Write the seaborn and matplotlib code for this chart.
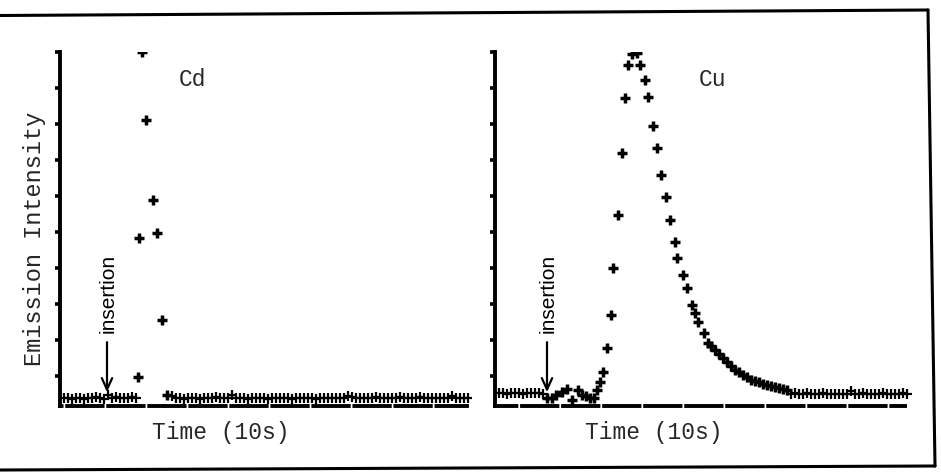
import seaborn as sns
import matplotlib.pyplot as plt
from matplotlib.lines import Line2D

# time in samples (10 s each), intensity in tick units (axis top = 10)
cd_base_time = [*range(1, 20), *range(28, 103)]
cd_base_signal = [
    0.39, 0.39, 0.36, 0.39, 0.39, 0.36, 0.39, 0.39, 0.42, 0.39, 0.36, 0.47, 0.39, 0.42, 0.39, 0.39, 0.39, 0.42, 0.39,
    0.44, 0.39, 0.39, 0.36, 0.39, 0.39, 0.39, 0.36, 0.39, 0.39, 0.39, 0.42, 0.39, 0.39, 0.39,
    0.47, 0.39, 0.39, 0.39, 0.36, 0.39, 0.39, 0.39, 0.39, 0.36, 0.39, 0.39, 0.39, 0.39, 0.39,
    0.36, 0.39, 0.39, 0.39, 0.39, 0.39, 0.36, 0.39, 0.39, 0.39, 0.39, 0.39, 0.39, 0.39, 0.44,
    0.42, 0.39, 0.39, 0.39, 0.39, 0.39, 0.42, 0.39, 0.39, 0.39, 0.39, 0.39, 0.42, 0.39, 0.39,
    0.39, 0.39, 0.42, 0.39, 0.39, 0.39, 0.39, 0.39, 0.39, 0.39, 0.44, 0.39, 0.39, 0.39, 0.39,
]
cd_peak_time = [19.6, 19.8, 20.4, 21.5, 23.2, 24.2, 25.6, 26.7]
cd_peak_signal = [0.98, 4.83, 10.0, 8.11, 5.89, 4.96, 2.56, 0.47]
cd_insert = 11.75

cu_base_time = [*range(1, 13), *range(74, 104)]
cu_base_signal = [
    0.53, 0.53, 0.50, 0.53, 0.53, 0.53, 0.50, 0.53, 0.53, 0.53, 0.53, 0.50,
    0.50, 0.53, 0.50, 0.50, 0.53, 0.50, 0.50, 0.50, 0.53, 0.50, 0.50, 0.50, 0.50, 0.50, 0.50,
    0.58, 0.50, 0.50, 0.53, 0.50, 0.50, 0.50, 0.50, 0.53, 0.50, 0.50, 0.50, 0.50, 0.53, 0.50,
]
cu_peak_time = [
    12.9, 14.2, 15.25, 16.7, 17.9, 19.2, 20.75, 21.75, 22.75, 23.75, 24.75, 25.5,
    26.25, 26.9, 27.9, 28.9, 29.6, 30.8, 31.7, 32.5, 33.3, 34.25, 35.5,
    36.25, 37.5, 38.3, 39.4, 40.6, 41.5, 42.75, 43.75, 45.0, 45.6, 47.1, 48.1, 49.2, 50.0, 50.8, 52.25, 53.3,
    54, 55, 56, 57, 58, 59, 60, 61, 62, 63, 64, 65, 66, 67, 68, 69, 70, 71, 72, 73,
]
cu_peak_signal = [
    0.40, 0.38, 0.47, 0.55, 0.64, 0.33, 0.61, 0.47, 0.44, 0.38, 0.38, 0.60,
    0.84, 1.12, 1.77, 2.69, 3.99, 5.47, 7.19, 8.71, 9.64, 9.94, 9.97,
    9.64, 9.22, 8.76, 7.94, 7.33, 6.58, 5.98, 5.33, 4.73, 4.27, 3.81, 3.44, 2.97, 2.74, 2.51, 2.19, 1.91,
    1.84, 1.72, 1.61, 1.50, 1.39, 1.28, 1.18, 1.10, 1.03, 0.96, 0.90, 0.86, 0.82, 0.79, 0.75, 0.72, 0.69,
    0.67, 0.64, 0.61,
]
cu_insert = 13.0

sns.set_theme(style="white")
plt.rcParams["font.family"] = ["Liberation Mono", "DejaVu Sans Mono"]

W, H = 941, 472
fig = plt.figure(figsize=(W / 100, H / 100), dpi=100)


def fx(px):
    return px / W


def fy(py):
    return 1 - py / H


panels = [
    dict(name="Cd", x0=60, x1=470.8, xmax=102.7, dash_end=101.75, dash_off=8.7,
         base=(cd_base_time, cd_base_signal), peak=(cd_peak_time, cd_peak_signal),
         insert=cd_insert, label_x=192, time_x=221),
    dict(name="Cu", x0=495, x1=912, xmax=104.25, dash_end=102.5, dash_off=3.6,
         base=(cu_base_time, cu_base_signal), peak=(cu_peak_time, cu_peak_signal),
         insert=cu_insert, label_x=713, time_x=654),
]

for p in panels:
    ax = fig.add_axes([fx(p["x0"]), fy(406), (p["x1"] - p["x0"]) / W, 354 / H])
    sns.scatterplot(x=p["base"][0], y=p["base"][1], marker="+", s=42,
                    linewidth=1.6, color="black", ax=ax, legend=False)
    sns.scatterplot(x=p["peak"][0], y=p["peak"][1], marker="+", s=48,
                    linewidth=2.5, color="black", ax=ax, legend=False)
    ax.set_xlim(0, p["xmax"])
    ax.set_ylim(0.167, 10)
    ax.set_yticks(range(1, 11))
    ax.set_xticks([])
    ax.set(xlabel="", ylabel="")
    ax.tick_params(axis="y", direction="out", left=True, length=3.5, width=2.6,
                   color="black", labelleft=False)
    ax.spines[["top", "right"]].set_visible(False)
    ax.spines["left"].set_linewidth(2.8)
    ax.spines["left"].set_color("black")
    ax.spines["bottom"].set_color("black")
    ax.spines["bottom"].set_linewidth(2.8)
    ax.spines["bottom"].set_linestyle((p["dash_off"], (9.1, 1.45)))
    ax.spines["bottom"].set_bounds(0, p["dash_end"])

    # insertion marker
    ax.annotate("", xy=(p["insert"], 0.55), xytext=(p["insert"], 1.94),
                arrowprops=dict(arrowstyle="->,head_length=0.55,head_width=0.25",
                                lw=1.6, color="black", shrinkA=0, shrinkB=0,
                                mutation_scale=15))
    ax.text(p["insert"] + 0.2, 2.2, "insertion", rotation=90, ha="center", va="bottom",
            fontsize=15, family=["Liberation Sans", "DejaVu Sans"], color="black")

    fig.text(fx(p["label_x"]), fy(80), p["name"], ha="center", va="center", fontsize=16.5)
    fig.text(fx(p["time_x"]), fy(432), "Time (10s)", ha="center", va="center", fontsize=16.5)

fig.text(fx(35), fy(239), "Emission Intensity", rotation=90, ha="center", va="center",
         fontsize=17)

# scanned frame around the figure
for (xa, ya), (xb, yb) in [((0, 15.5), (928, 10)), ((928, 10), (935, 466)), ((0, 470), (935, 466))]:
    fig.add_artist(Line2D([fx(xa), fx(xb)], [fy(ya), fy(yb)], color="black", lw=2.2))

fig.savefig("out.png", dpi=100)
